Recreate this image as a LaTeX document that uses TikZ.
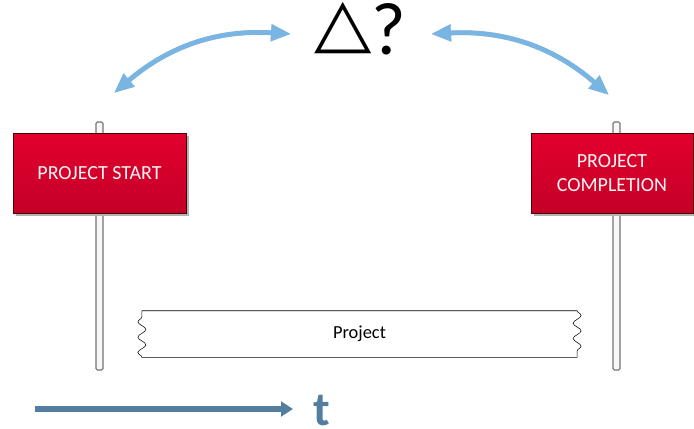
\documentclass[tikz,border=0pt]{standalone}
\usepackage{fontspec}
\setmainfont{Carlito}
\newfontfamily\symfont{DejaVu Sans}
\usetikzlibrary{arrows.meta,shadows,decorations.pathmorphing}
\definecolor{signred}{RGB}{226,0,45}
\definecolor{signdark}{RGB}{196,0,40}
\definecolor{skyblue}{RGB}{121,181,226}
\definecolor{steel}{RGB}{84,126,160}
\begin{document}
\begin{tikzpicture}[x=0.75pt, y=-0.75pt,
				    sign/.style={draw=black!70!red, top color=signred, bottom color=signdark,
				    			  text=red!4, align=center, font=\fontsize{15}{18}\selectfont,
				    			  minimum height=60pt, inner sep=0pt,
				    			  drop shadow={shadow xshift=2pt, shadow yshift=-2pt, fill=black!30, opacity=1}},
				    post/.style={draw=black!55, fill=black!3, line width=0.8pt, rounded corners=1pt},
				    bar/.style={minimum width=326pt, minimum height=34.5pt, font=\fontsize{13.8}{16}\selectfont},
				    swing/.style={draw=skyblue, line width=3.6pt, {Triangle[width=12pt, length=15pt]}-{Triangle[width=12pt, length=15pt]}},
				    swingshadow/.style={swing, draw=black!22}]
	\useasboundingbox (0,0) rectangle (694,429);

	% posts
	\draw[post] (96,122) rectangle (103,370);
	\draw[post] (613,122) rectangle (620,370);

	% signs
	\node[sign, minimum width=129.75pt] (s1) at (99.5,173) {PROJECT START};
	\node[sign, minimum width=121.5pt] (s2) at (612,173) {PROJECT\\COMPLETION};

	% project bar
	\node[bar] (b1) at (359.5,334) {Project};
	\draw[decoration={snake, segment length=11.5pt, amplitude=3pt}]
		(b1.north west) -- (b1.north east)
		decorate {-- (b1.south east)} -- (b1.south west)
		decorate {-- (b1.north west)};

	% change
	\node[font=\fontsize{56}{60}\selectfont, inner sep=0pt, anchor=base] (q) at (360.5,54)
		{{\symfont\raisebox{\depth}{\scalebox{1}[0.9]{△}}}?};
	\coordinate (a1) at (114,93);
	\coordinate (a2) at (291,34);
	\coordinate (a3) at (431,34);
	\coordinate (a4) at (609,95);
	\begin{scope}[shift={(2.5,3)}]
		\draw[swingshadow] (a1) to[bend left=22] (a2);
		\draw[swingshadow] (a3) to[bend left=22] (a4);
	\end{scope}
	\draw[swing] (a1) to[bend left=22] (a2);
	\draw[swing] (a3) to[bend left=22] (a4);

	% time
	\node[text=steel, font=\bfseries\fontsize{36}{40}\selectfont, inner sep=0pt, anchor=base] (t) at (322,425) {t};
	\coordinate (t0) at (35,409);
	\coordinate (t1) at (293,409);
	\draw[steel, line width=4.5pt, -{Triangle[width=11pt, length=9pt]}] (t0) -- (t1);

\end{tikzpicture}
\end{document}
